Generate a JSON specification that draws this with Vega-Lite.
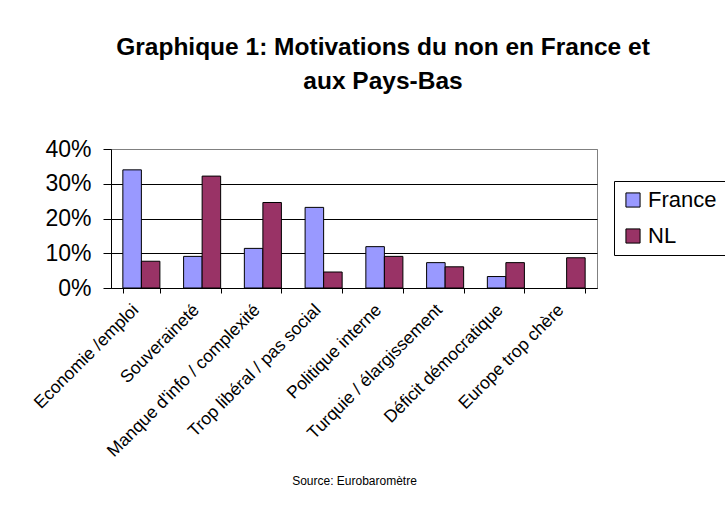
{
  "$schema": "https://vega.github.io/schema/vega-lite/v6.json",
  "width": 486,
  "height": 139,
  "autosize": "none",
  "padding": {"left": 111, "top": 149, "right": 128, "bottom": 220},
  "background": "white",
  "title": {
    "text": ["Graphique 1: Motivations du non en France et", "aux Pays-Bas"],
    "font": "Liberation Sans",
    "fontSize": 24.5,
    "fontWeight": "bold",
    "lineHeight": 34,
    "color": "black",
    "anchor": "middle",
    "dx": 29,
    "offset": 44
  },
  "data": {
    "values": [
      {"motif": "Economie /emploi", "pays": "France", "valeur": 0.34},
      {"motif": "Economie /emploi", "pays": "NL", "valeur": 0.077},
      {"motif": "Souveraineté", "pays": "France", "valeur": 0.091},
      {"motif": "Souveraineté", "pays": "NL", "valeur": 0.322},
      {"motif": "Manque d'info / complexité", "pays": "France", "valeur": 0.114},
      {"motif": "Manque d'info / complexité", "pays": "NL", "valeur": 0.246},
      {"motif": "Trop libéral / pas social", "pays": "France", "valeur": 0.232},
      {"motif": "Trop libéral / pas social", "pays": "NL", "valeur": 0.046},
      {"motif": "Politique interne", "pays": "France", "valeur": 0.119},
      {"motif": "Politique interne", "pays": "NL", "valeur": 0.091},
      {"motif": "Turquie / élargissement", "pays": "France", "valeur": 0.073},
      {"motif": "Turquie / élargissement", "pays": "NL", "valeur": 0.061},
      {"motif": "Déficit démocratique", "pays": "France", "valeur": 0.033},
      {"motif": "Déficit démocratique", "pays": "NL", "valeur": 0.073},
      {"motif": "Europe trop chère", "pays": "NL", "valeur": 0.087}
    ]
  },
  "mark": {"type": "bar", "stroke": "black", "strokeWidth": 1},
  "encoding": {
    "x": {
      "field": "motif",
      "type": "nominal",
      "sort": null,
      "scale": {"paddingInner": 0.39, "paddingOuter": 0.195},
      "axis": {
        "title": "Source: Eurobaromètre",
        "titleFont": "Liberation Sans",
        "titleFontSize": 12,
        "titleFontWeight": "normal",
        "titleColor": "black",
        "titlePadding": 16,
        "labelAngle": -45,
        "labelAlign": "right",
        "labelBaseline": "middle",
        "labelFont": "Liberation Sans",
        "labelFontSize": 17.5,
        "labelColor": "black",
        "labelPadding": 14,
        "labelOffset": -6,
        "labelOverlap": false,
        "labelLimit": 300,
        "tickBand": "extent",
        "tickSize": 5,
        "tickColor": "black",
        "domainColor": "black",
        "grid": false
      }
    },
    "xOffset": {"field": "pays", "type": "nominal", "scale": {"domain": ["France", "NL"]}},
    "y": {
      "field": "valeur",
      "type": "quantitative",
      "scale": {"domain": [0, 0.4]},
      "axis": {
        "title": null,
        "format": ".0%",
        "values": [0, 0.1, 0.2, 0.3, 0.4],
        "labelFont": "Liberation Sans",
        "labelFontSize": 23,
        "labelColor": "black",
        "labelPadding": 12,
        "tickSize": 8,
        "tickColor": "black",
        "domainColor": "black",
        "grid": true,
        "gridColor": {"condition": {"test": "datum.value === 0.4", "value": "#808080"}, "value": "black"},
        "gridOpacity": 1
      }
    },
    "color": {
      "field": "pays",
      "type": "nominal",
      "scale": {"domain": ["France", "NL"], "range": ["#9999FF", "#993366"]},
      "legend": {
        "title": null,
        "orient": "none",
        "legendX": 503,
        "legendY": 32,
        "symbolType": "square",
        "symbolSize": 200,
        "symbolStrokeColor": "black",
        "symbolStrokeWidth": 1,
        "labelFont": "Liberation Sans",
        "labelFontSize": 22,
        "labelColor": "black",
        "labelOffset": 4,
        "rowPadding": 14,
        "strokeColor": "black",
        "padding": 8,
        "fillColor": "white"
      }
    }
  },
  "config": {
    "view": {"stroke": "#808080", "strokeWidth": 1}
  }
}
